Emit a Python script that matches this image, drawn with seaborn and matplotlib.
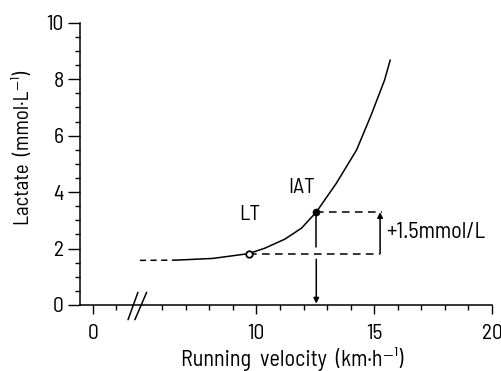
import matplotlib
matplotlib.use("Agg")
import matplotlib.pyplot as plt
import seaborn as sns
import pandas as pd
from matplotlib.ticker import FixedLocator, NullFormatter

# ---------------- data ----------------
# lactate curve (velocity in km/h, lactate in mmol/L)
curve_velocity = [5.05, 6.6, 8.15, 9.67, 10.35, 11.20, 11.91, 12.54, 13.39, 14.25, 14.87, 15.44, 15.68]
curve_lactate = [1.58, 1.59, 1.65, 1.82, 2.01, 2.33, 2.72, 3.29, 4.31, 5.49, 6.73, 7.97, 8.68]
n_dashed = 2  # first points are extrapolated (dashed)

lt_velocity, lt_lactate = 9.67, 1.82
iat_velocity, iat_lactate = 12.54, 3.29
delta_label = "+1.5mmol/L"

x_major_ticks = [10, 15, 20]
x_minor_ticks = [6, 7, 8, 9, 11, 12, 13, 14, 16, 17, 18, 19]
x_tick_labels = ["10", "15", "20"]
y_major_ticks = [0, 2, 4, 6, 8, 10]
y_tick_labels = ["0", "2", "4", "6", "8", "10"]
zero_label = "0"

xlabel = "Running  velocity  (km·h⁻¹)"
ylabel = "Lactate  (mmol·L⁻¹)"

# broken-axis offset: real 0 km/h drawn at this position
BREAK_POS0 = 3.05

# ---------------- style ----------------
sns.set_theme(style="ticks")
plt.rcParams["font.family"] = ["Barlow Semi Condensed", "DejaVu Sans"]
plt.rcParams["axes.edgecolor"] = "black"
plt.rcParams["text.color"] = "black"
plt.rcParams["xtick.color"] = "black"
plt.rcParams["ytick.color"] = "black"
plt.rcParams["axes.labelcolor"] = "black"

fig = plt.figure(figsize=(5.02, 3.71), dpi=100)
ax = fig.add_axes([80 / 502, 1 - 305 / 371, 412 / 502, (305 - 22.7) / 371])

df = pd.DataFrame({"v": curve_velocity, "lac": curve_lactate})
dashed = df.iloc[: n_dashed]
solid = df.iloc[n_dashed - 1:]

sns.lineplot(data=dashed, x="v", y="lac", ax=ax, color="black", lw=1.1,
             linestyle=(0, (4, 3)), sort=False, estimator=None)
sns.lineplot(data=solid, x="v", y="lac", ax=ax, color="black", lw=1.1,
             sort=False, estimator=None)

# horizontal dashed reference lines
ax.plot([lt_velocity, 15.25], [lt_lactate, lt_lactate], color="black", lw=1.1,
        linestyle=(0, (5, 3.5)))
ax.plot([iat_velocity, 15.35], [iat_lactate, iat_lactate], color="black", lw=1.1,
        linestyle=(0, (5, 3.5)))

# vertical line from IAT down to x axis with arrow
ax.plot([iat_velocity, iat_velocity], [iat_lactate, 2.05], color="black", lw=1.1)
ax.annotate("", xy=(iat_velocity, 0.05), xytext=(iat_velocity, 1.62),
            arrowprops=dict(arrowstyle="-|>", color="black", lw=1.1,
                            mutation_scale=8, shrinkA=0, shrinkB=0))

# +1.5 bracket arrow
ax.annotate("", xy=(15.25, iat_lactate), xytext=(15.25, lt_lactate),
            arrowprops=dict(arrowstyle="-|>", color="black", lw=1.1,
                            mutation_scale=8, shrinkA=0, shrinkB=0))
ax.text(15.5, 2.57, delta_label, fontsize=16, ha="left", va="center")

# threshold points
pts = pd.DataFrame({"v": [lt_velocity, iat_velocity], "lac": [lt_lactate, iat_lactate],
                    "kind": ["LT", "IAT"]})
sns.scatterplot(data=pts[pts.kind == "LT"], x="v", y="lac", ax=ax, s=22,
                facecolor="white", edgecolor="black", linewidth=1.3, zorder=5)
sns.scatterplot(data=pts[pts.kind == "IAT"], x="v", y="lac", ax=ax, s=26,
                color="black", edgecolor="black", zorder=5)

ax.text(9.7, 3.2, "LT", fontsize=15.5, ha="center", va="center")
ax.text(11.9, 4.15, "IAT", fontsize=15.5, ha="center", va="center")

# axes
ax.set_xlim(2.51, 20)
ax.set_ylim(0, 10)
sns.despine(ax=ax)
for s in ["left", "bottom"]:
    ax.spines[s].set_linewidth(1.1)

ax.xaxis.set_major_locator(FixedLocator([BREAK_POS0] + x_major_ticks))
ax.set_xticklabels([zero_label] + x_tick_labels)
ax.xaxis.set_minor_locator(FixedLocator([BREAK_POS0 + 1] + x_minor_ticks))
ax.xaxis.set_minor_formatter(NullFormatter())
ax.set_yticks(y_major_ticks)
ax.set_yticklabels(y_tick_labels)
ax.yaxis.set_minor_locator(FixedLocator([i * 0.5 for i in range(21)]))
ax.tick_params(axis="x", which="major", length=6.5, width=1.0, pad=7, labelsize=15.5)
ax.tick_params(axis="x", which="minor", length=3.5, width=1.0)
ax.tick_params(axis="y", which="major", length=8.5, width=1.0, pad=3, labelsize=15.5)
ax.tick_params(axis="y", which="minor", length=3.5, width=1.0)

ax.set_xlabel(xlabel, fontsize=16)
ax.set_ylabel(ylabel, fontsize=15)
ax.xaxis.label.set_va("center")
ax.yaxis.label.set_va("center")
ax.xaxis.set_label_coords(0.515, -0.19)
ax.yaxis.set_label_coords(-0.138, 0.555)

# axis break marks
for x0, x1 in [(4.55, 4.97), (4.84, 5.34)]:
    ax.plot([x0, x1], [-0.52, 0.45], color="black", lw=1.1, clip_on=False)

fig.savefig("out.png", dpi=100, facecolor="white")
